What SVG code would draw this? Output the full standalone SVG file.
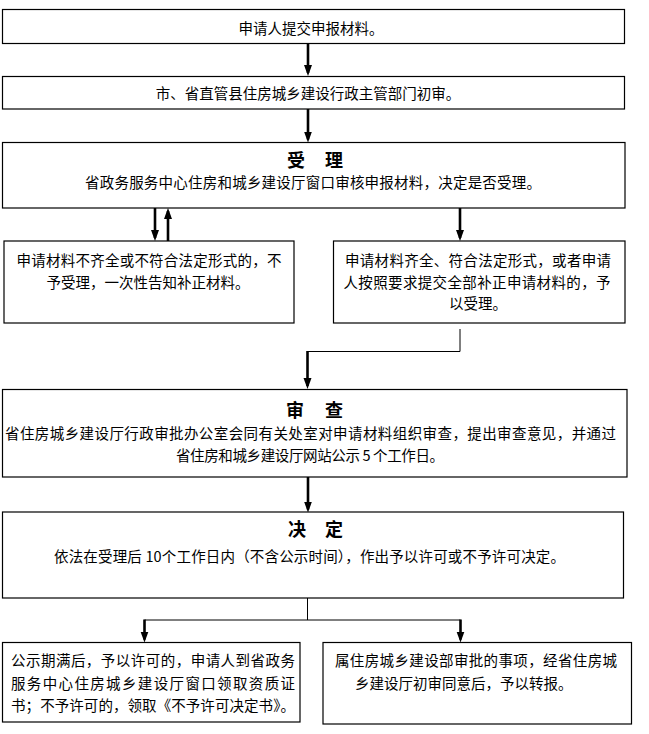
<svg xmlns="http://www.w3.org/2000/svg" width="649" height="734" viewBox="0 0 649 734">
<defs>
<style>
.box{fill:#fff;stroke:#000;stroke-width:1.2}
.t{font-family:"Noto Sans CJK SC","Noto Sans",sans-serif;font-size:14.5px;fill:#000}
.c{text-anchor:middle}
.h{font-family:"Noto Sans CJK SC","Noto Sans",sans-serif;font-size:18px;font-weight:bold;fill:#000;text-anchor:middle}
.thick{stroke:#000;stroke-width:2.6;fill:none;marker-end:url(#ah)}
.thin{stroke:#000;stroke-width:1;fill:none}
</style>
<marker id="ah" markerUnits="userSpaceOnUse" markerWidth="12" markerHeight="9" refX="8" refY="4" orient="auto">
<path d="M0,0 L11,4 L0,8 z" fill="#000"/>
</marker>
</defs>
<rect width="649" height="734" fill="#fff"/>

<g id="connectors">
<line class="thick" x1="308" y1="43.5" x2="308" y2="73"/>
<line class="thick" x1="308" y1="109" x2="308" y2="139.5"/>
<line class="thick" x1="155" y1="208" x2="155" y2="238"/>
<line class="thick" x1="168" y1="241" x2="168" y2="211"/>
<line class="thick" x1="460" y1="208" x2="460" y2="238"/>
<polyline class="thin" points="460,329 460,351.5 307.5,351.5"/>
<line class="thick" x1="307.5" y1="351" x2="307.5" y2="386"/>
<line class="thick" x1="308" y1="477" x2="308" y2="509.5"/>
<line class="thin" x1="307.5" y1="598" x2="307.5" y2="620"/>
<line class="thin" x1="144.5" y1="620" x2="460.5" y2="620"/>
<line class="thick" x1="144.5" y1="619.5" x2="144.5" y2="639.5"/>
<line class="thick" x1="460.5" y1="619.5" x2="460.5" y2="639.5"/>
</g>

<g id="submit">
<rect class="box" x="2.5" y="9.5" width="622" height="34"/>
<text class="t c" x="311" y="33.5">申请人提交申报材料。</text>
</g>

<g id="prelim">
<rect class="box" x="2.5" y="76.5" width="622" height="32.5"/>
<text class="t c" x="308" y="98.5">市、省直管县住房城乡建设行政主管部门初审。</text>
</g>

<g id="accept">
<rect class="box" x="2.5" y="142.5" width="622.5" height="65.5"/>
<text class="h" x="296 334" y="167">受理</text>
<text class="t" x="85" y="188" textLength="456" lengthAdjust="spacing">省政务服务中心住房和城乡建设厅窗口审核申报材料，决定是否受理。</text>
</g>

<g id="reject">
<rect class="box" x="4" y="241" width="290" height="82"/>
<text class="t" x="16.5" y="265.5" textLength="265" lengthAdjust="spacing">申请材料不齐全或不符合法定形式的，不</text>
<text class="t c" x="148" y="287.5">予受理，一次性告知补正材料。</text>
</g>

<g id="accepted">
<rect class="box" x="333.5" y="241" width="291.5" height="82"/>
<text class="t" x="345" y="265.5" textLength="266" lengthAdjust="spacing">申请材料齐全、符合法定形式，或者申请</text>
<text class="t" x="343.5" y="287.5" textLength="267" lengthAdjust="spacing">人按照要求提交全部补正申请材料的，予</text>
<text class="t c" x="478" y="309">以受理。</text>
</g>

<g id="review">
<rect class="box" x="2.5" y="389.5" width="624.5" height="87.5"/>
<text class="h" x="295 334" y="416.5">审查</text>
<text class="t" x="5" y="438.5" textLength="611" lengthAdjust="spacing">省住房城乡建设厅行政审批办公室会同有关处室对申请材料组织审查，提出审查意见，并通过</text>
<text class="t" x="176" y="461" textLength="268" lengthAdjust="spacing">省住房和城乡建设厅网站公示 5 个工作日。</text>
</g>

<g id="decision">
<rect class="box" x="2.5" y="512" width="621" height="86"/>
<text class="h" x="297 334" y="536">决定</text>
<text class="t" x="54" y="562" textLength="511" lengthAdjust="spacing">依法在受理后 10个工作日内（不含公示时间），作出予以许可或不予许可决定。</text>
</g>

<g id="permit">
<rect class="box" x="2.5" y="642.5" width="297.5" height="79.5"/>
<text class="t" x="11" y="665.5" textLength="284" lengthAdjust="spacing">公示期满后，予以许可的，申请人到省政务</text>
<text class="t" x="11" y="689" textLength="284" lengthAdjust="spacing">服务中心住房城乡建设厅窗口领取资质证</text>
<text class="t" x="11" y="711" textLength="284" lengthAdjust="spacing">书；不予许可的，领取《不予许可决定书》。</text>
</g>

<g id="forward">
<rect class="box" x="323" y="642.5" width="308.5" height="81.5"/>
<text class="t" x="335" y="665.5" textLength="282" lengthAdjust="spacing">属住房城乡建设部审批的事项，经省住房城</text>
<text class="t" x="355" y="689">乡建设厅初审同意后，予以转报。</text>
</g>
</svg>
